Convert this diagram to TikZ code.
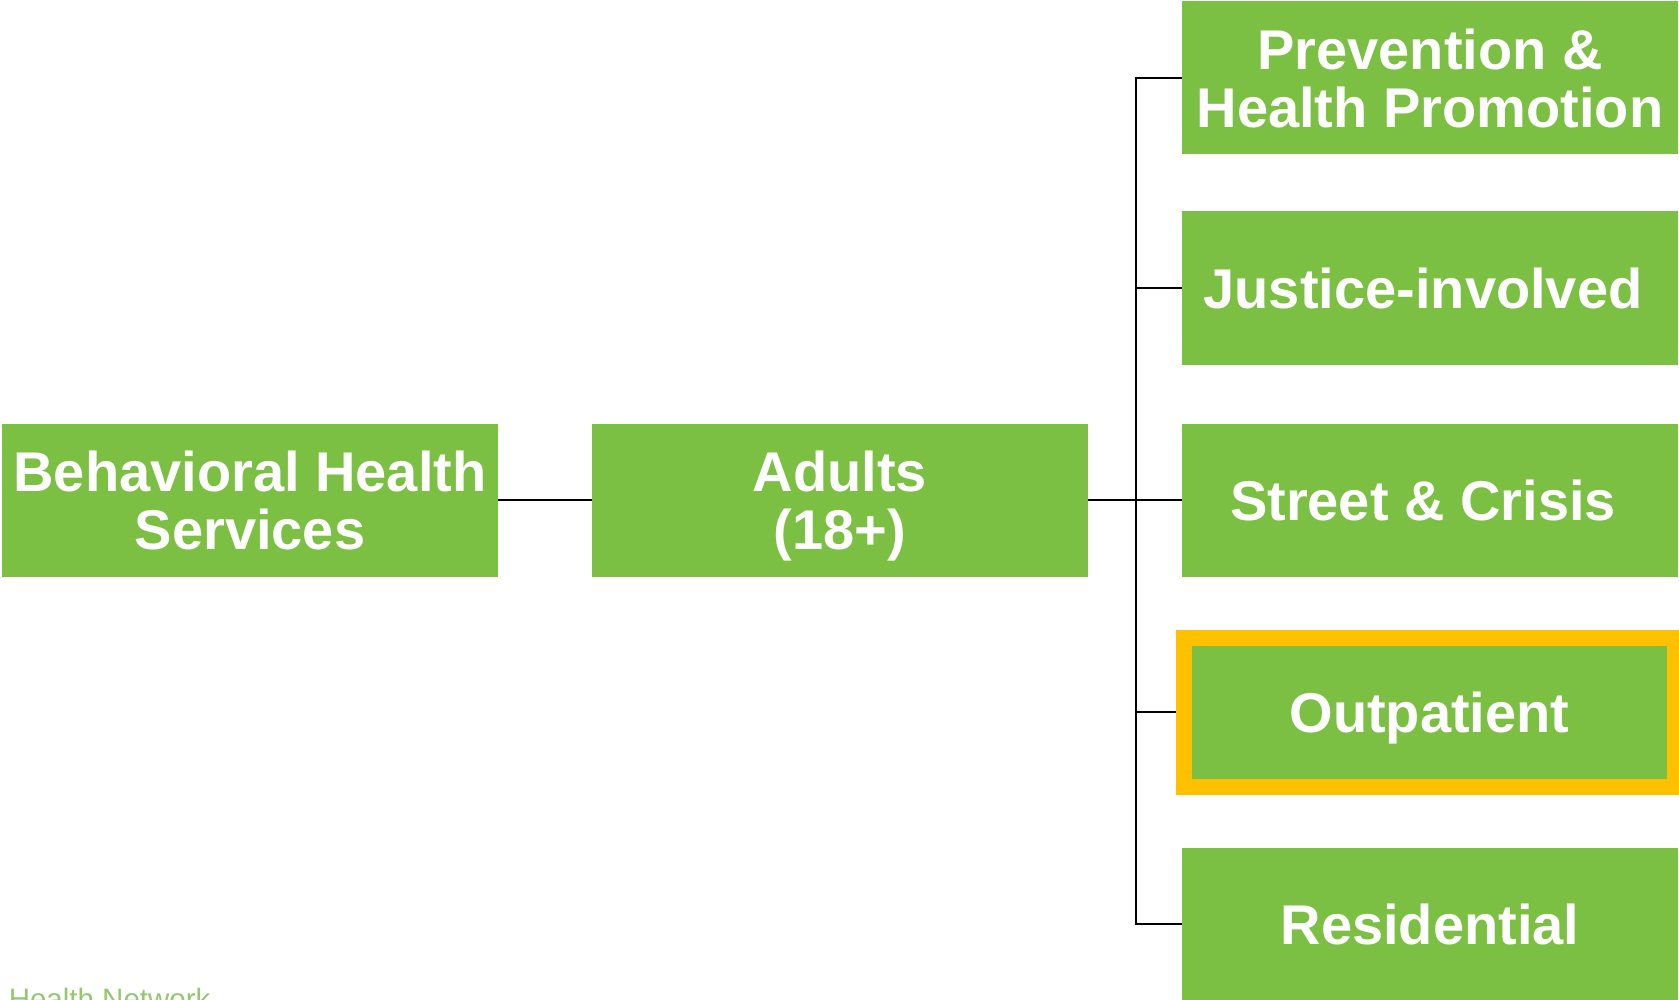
\documentclass[tikz,border=0pt]{standalone}
\usepackage{fontspec}
\setmainfont{Liberation Sans}
\definecolor{boxgreen}{HTML}{7BC043}
\definecolor{frameyellow}{HTML}{FFC000}
\definecolor{footgreen}{RGB}{146,200,110}

\begin{document}
\begin{tikzpicture}[x=1pt, y=-1pt,
	box/.style={fill=boxgreen, text=white, inner sep=0pt, minimum width=496pt, minimum height=153pt, text depth=0pt, align=center, font=\fontsize{56}{58}\selectfont\bfseries},
	chosen/.style={box, draw=frameyellow, line width=16pt, minimum width=491pt, minimum height=149pt},
	link/.style={draw=black, line width=1.3pt}]
	\useasboundingbox (0, 0) rectangle (1679, 1000);

	\node[box] (bhs) at (250, 500) {Behavioral Health\\Services};
	\node[box] (adults) at (840, 500) {Adults\\(18+)};

	\node[box] (prev) at (1430, 78) {Prevention \&\\Health Promotion};
	\node[box] (justice) at (1430, 288) {\hspace*{-14pt}Justice-involved};
	\node[box] (street) at (1430, 500) {\hspace*{-14pt}Street \& Crisis};
	\node[chosen] (outpat) at (1429.5, 712) {Outpatient};
	\node[box] (resid) at (1430, 924) {Residential};

	\coordinate (trunk) at (1136, 500);
	\draw[link] (bhs.east) -- (adults.west);
	\draw[link, line width=2.2pt] (adults.east) -- (trunk);
	\foreach \n in {prev, justice, street, outpat, resid}
		\draw[link] (trunk) |- (\n.west);

	\node[anchor=base west, inner sep=0pt, text=footgreen, font=\fontsize{29.5}{30}\selectfont] (footer) at (-16, 1009) {e Health Network};
\end{tikzpicture}
\end{document}
